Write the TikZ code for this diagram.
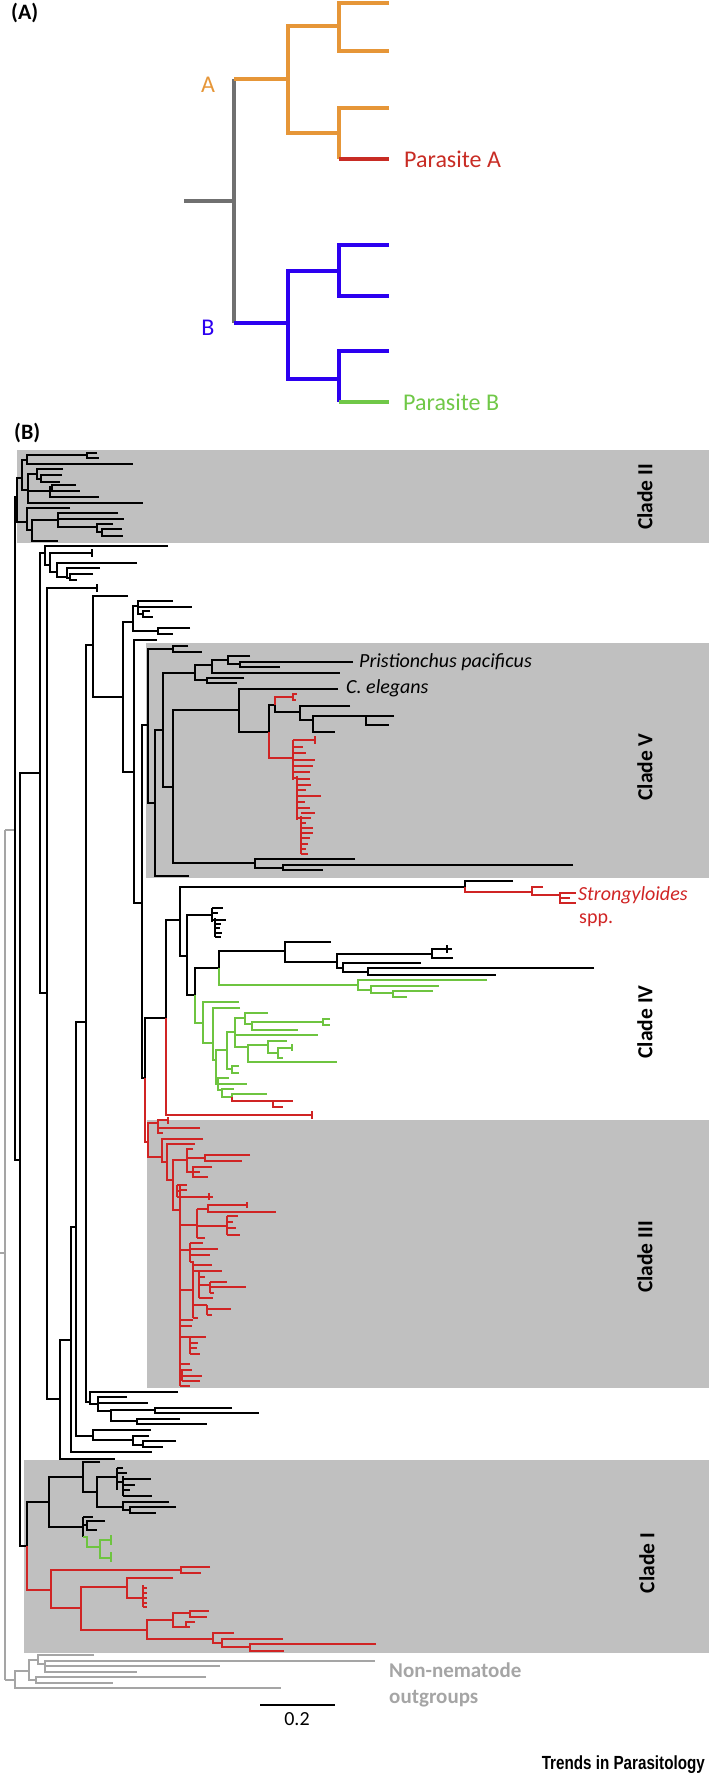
\documentclass[tikz,border=0pt]{standalone}
\usepackage{graphicx}
\usepackage{fontspec}
\setmainfont{Carlito}
\newfontfamily\logofont{Liberation Sans}
\usetikzlibrary{positioning}
\definecolor{boxgray}{RGB}{192,192,192}
\definecolor{tred}{RGB}{208,36,36}
\definecolor{tgrn}{RGB}{110,196,64}
\definecolor{tgray}{RGB}{165,165,165}
\definecolor{aorange}{RGB}{230,150,56}
\definecolor{ablue}{RGB}{44,0,240}
\definecolor{agray}{RGB}{112,112,112}
\definecolor{ared}{RGB}{200,44,36}
\definecolor{agreen}{RGB}{112,200,72}
% branch helpers: bracket (x, top y, top end, bottom y, bottom end), leaf, vertical
\newcommand{\tbr}[6][]{\draw[br,#1] (#4,#3) -- (#2,#3) -- (#2,#5) -- (#6,#5);}
\newcommand{\tlf}[4][]{\draw[br,#1] (#2,#3) -- (#4,#3);}
\newcommand{\tvl}[4][]{\draw[br,#1] (#2,#3) -- (#2,#4);}

\begin{document}
\begin{tikzpicture}[x=1pt, y=-1pt,
  br/.style={line width=2.6pt, line join=miter},
  pa/.style={line width=3.4pt, line join=miter},
  clab/.style={font=\fontsize{21.5}{24}\selectfont\bfseries, rotate=90},
  spl/.style={font=\fontsize{20}{24}\selectfont\itshape, anchor=west, inner sep=0pt},
  plab/.style={font=\fontsize{24}{28}\selectfont, anchor=west, inner sep=0pt},
  panel/.style={font=\fontsize{22}{26}\selectfont\bfseries, anchor=west, inner sep=0pt}
]
\useasboundingbox (0,0) rectangle (709,1774);

% ---- panel A
\node[panel] (pA) at (11,13) {(A)};
\draw[pa, agray] (184,201) -- (234,201);
\draw[pa, agray] (234,79) -- (234,323);
\draw[pa, aorange] (234,79) -- (288,79);
\draw[pa, aorange] (339,26) -- (288,26) -- (288,133) -- (339,133);
\draw[pa, aorange] (389,3) -- (339,3) -- (339,51) -- (389,51);
\draw[pa, aorange] (389,108) -- (339,108) -- (339,159);
\draw[pa, ared] (339,159) -- (389,159);
\draw[pa, ablue] (234,323) -- (288,323);
\draw[pa, ablue] (339,271) -- (288,271) -- (288,379) -- (339,379);
\draw[pa, ablue] (389,245) -- (339,245) -- (339,296) -- (389,296);
\draw[pa, ablue] (389,351) -- (339,351) -- (339,402);
\draw[pa, agreen] (339,402) -- (389,402);
\node[plab, text=aorange, anchor=center] (labA) at (208,85) {A};
\node[plab, text=ablue, anchor=center] (labB) at (208,328) {B};
\node[plab, text=ared] (parA) at (404,159) {Parasite A};
\node[plab, text=agreen] (parB) at (403,402) {Parasite B};

% ---- panel B: clade boxes
\node[panel] (pB) at (14,433) {(B)};
\fill[boxgray] (17,450) rectangle (709,543);
\fill[boxgray] (146,643) rectangle (709,878);
\fill[boxgray] (147,1120) rectangle (709,1388);
\fill[boxgray] (24,1460) rectangle (709,1653);

% root and outgroups
\draw[br, tgray] (0,1253) -- (5,1253);
\tvl[tgray]{5}{830}{1680}
\tlf[tgray]{5}{830}{15}
\tlf[tgray]{5}{1680}{15}
\tbr[tgray]{15}{1671}{29}{1688}{281}
\tbr[tgray]{29}{1660}{38}{1680}{36}
\tbr[tgray]{36}{1677}{206}{1683}{113}
\tbr[tgray]{38}{1655}{94}{1664}{45}
\tbr[tgray]{45}{1661}{375}{1672}{137}
\tlf[tgray]{45}{1666}{220}

% backbone
\tbr{15}{497}{17}{1160}{20}
\tbr{20}{773}{40}{1546}{27}
\tbr{40}{553}{45}{993}{47}
\tbr{47}{588}{97}{1399}{60}
\tvl{97}{584}{592}
\tbr{60}{1340}{71}{1459}{115}
\tbr{71}{1227}{76}{1452}{152}
\tbr{76}{1022}{86}{1436}{93}
\tbr{86}{645}{93}{1402}{90}
\tbr{93}{596}{128}{697}{123}
\tbr{123}{622}{133}{772}{134}
\tbr{134}{640}{157}{903}{142}
\tbr{142}{725}{148}{1078}{145}

% clade II
\tbr{17}{478}{22}{522}{27}
\tbr{22}{460}{27}{490}{28}
\tbr{27}{455}{87}{464}{133}
\tbr{87}{453}{97}{458}{99}
\tbr{28}{474}{37}{503}{143}
\tbr{37}{469}{63}{479}{41}
\tbr{41}{475}{62}{482}{60}
\tlf{28}{491}{50}
\tbr{50}{487}{52}{497}{99}
\tbr{52}{485}{76}{491}{80}
\tbr{27}{508}{70}{530}{32}
\tbr{32}{520}{58}{541}{58}
\tbr{58}{513}{118}{527}{97}
\tlf{58}{519}{124}
\tbr{97}{524}{113}{532}{102}
\tbr{102}{529}{122}{536}{123}

% small groups above clade V
\tbr{45}{546}{168}{565}{50}
\tbr{50}{553}{92}{572}{57}
\tvl{92}{549}{557}
\tbr{57}{563}{137}{577}{67}
\tbr{67}{568}{100}{578}{70}
\tbr{70}{574}{93}{580}{77}
\tbr{133}{606}{138}{631}{158}
\tbr{138}{601}{173}{614}{143}
\tlf{138}{607}{192}
\tbr{143}{611}{150}{617}{153}
\tbr{158}{628}{190}{634}{173}

% clade V
\tbr{148}{649}{173}{803}{155}
\tbr{173}{646}{188}{652}{202}
\tbr{155}{730}{163}{876}{189}
\tbr{163}{673}{195}{787}{173}
\tbr{195}{665}{212}{680}{207}
\tbr{212}{660}{228}{673}{340}
\tbr{228}{656}{250}{664}{240}
\tbr{240}{662}{353}{667}{280}
\tbr{207}{678}{244}{683}{237}
\tbr{173}{710}{239}{863}{255}
\tbr{239}{689}{338}{732}{269}
\draw[br] (275,705) -- (269,705) -- (269,732);
\draw[br, tred] (269,732) -- (269,758) -- (293,758);
\draw[br, tred] (275,705) -- (275,697) -- (293,697);
\tbr[tred]{293}{694}{297}{700}{296}
\draw[br] (275,705) -- (275,712) -- (300,712);
\tbr{300}{706}{350}{720}{313}
\tbr{313}{716}{366}{732}{335}
\tbr{366}{716}{394}{725}{389}
\tbr{255}{859}{355}{868}{283}
\tbr{283}{865}{573}{870}{323}
\tvl[tred]{293}{740}{780}
\tvl[tred]{297}{776}{820}
\tvl[tred]{301}{816}{854}
\tvl[tred]{315}{736}{744}
\foreach \a/\y/\b in {293/740/315, 293/747/303, 293/753/306, 293/760/315,
  293/766/313, 293/772/310, 293/778/297, 297/779/310, 297/785/311, 297/790/306,
  297/796/321, 297/802/305, 297/808/310, 297/818/301, 301/813/315, 301/818/311,
  301/823/306, 301/828/313, 301/833/313, 301/838/310, 301/844/308, 301/849/306,
  301/854/308}
  \draw[br, tred] (\a,\y) -- (\b,\y);
\node[spl] (pristi) at (359,662) {Pristionchus pacificus};
\node[spl] (celeg) at (346,688) {C. elegans};

% clade IV
\draw[br] (166,1018) -- (145,1018) -- (145,1078);
\draw[br, tred] (145,1078) -- (145,1142) -- (148,1142);
\draw[br] (180,920) -- (166,920) -- (166,1018);
\draw[br, tred] (166,1018) -- (166,1115) -- (312,1115);
\tvl[tred]{312}{1111}{1119}
\tbr{180}{887}{465}{956}{187}
\draw[br] (513,881) -- (465,881) -- (465,887);
\draw[br, tred] (465,887) -- (465,892) -- (532,892);
\tbr[tred]{532}{887}{543}{895}{560}
\tbr[tred]{560}{893}{576}{903}{576}
\tlf[tred]{560}{898}{570}
\node[spl, text=tred] (strongy) at (578,895) {Strongyloides};
\node[spl, font=\fontsize{20}{24}\selectfont, text=tred] (spp) at (579,920) {spp.};
\tbr{187}{915}{212}{995}{195}
\tvl{212}{908}{922}
\tvl{215}{918}{937}
\foreach \a/\y/\b in {212/908/223, 212/913/218, 212/920/226, 215/924/221,
  215/928/220, 215/933/222, 215/937/221}
  \draw[br] (\a,\y) -- (\b,\y);
\draw[br] (219,968) -- (195,968) -- (195,995);
\draw[br, tgrn] (195,995) -- (195,1023) -- (203,1023);
\draw[br] (285,951) -- (219,951) -- (219,968);
\draw[br, tgrn] (219,968) -- (219,985) -- (358,985);
\tbr{285}{942}{331}{962}{337}
\tbr{337}{954}{432}{968}{343}
\tbr{432}{949}{452}{958}{453}
\tvl{447}{945}{953}
\tbr{343}{963}{421}{972}{368}
\tbr{368}{968}{594}{975}{496}
\tbr[tgrn]{358}{980}{487}{990}{371}
\tbr[tgrn]{371}{986}{439}{993}{393}
\tbr[tgrn]{393}{991}{433}{997}{407}
\tbr[tgrn]{203}{1002}{239}{1043}{213}
\tbr[tgrn]{213}{1008}{240}{1060}{216}
\tbr[tgrn]{216}{1050}{227}{1084}{218}
\tbr[tgrn]{227}{1032}{235}{1069}{232}
\tbr[tgrn]{235}{1018}{245}{1047}{248}
\tlf[tgrn]{235}{1035}{318}
\tbr[tgrn]{245}{1013}{268}{1024}{252}
\tbr[tgrn]{252}{1022}{323}{1030}{298}
\tbr[tgrn]{323}{1019}{330}{1025}{330}
\tbr[tgrn]{248}{1045}{268}{1062}{337}
\tbr[tgrn]{268}{1041}{287}{1053}{278}
\tbr[tgrn]{278}{1048}{292}{1058}{283}
\tvl[tgrn]{292}{1044}{1051}
\tbr[tgrn]{232}{1066}{239}{1073}{239}
\tbr[tgrn]{218}{1078}{229}{1090}{222}
\tlf[tgrn]{218}{1084}{247}
\draw[br, tgrn] (234,1089) -- (222,1089) -- (222,1097) -- (232,1097);
\draw[br, tgrn] (267,1094) -- (232,1094) -- (232,1097);
\draw[br, tred] (232,1097) -- (232,1101) -- (293,1101);
\draw[br, tred] (273,1101) -- (273,1107) -- (283,1107);

% clade III
\tbr[tred]{148}{1123}{158}{1157}{162}
\tbr[tred]{158}{1120}{168}{1133}{163}
\tlf[tred]{158}{1128}{200}
\tvl[tred]{168}{1117}{1124}
\tbr[tred]{162}{1139}{203}{1162}{167}
\tbr[tred]{167}{1144}{195}{1180}{173}
\tbr[tred]{173}{1160}{187}{1210}{180}
\tbr[tred]{187}{1149}{193}{1172}{193}
\tlf[tred]{187}{1158}{205}
\tbr[tred]{205}{1155}{250}{1161}{242}
\tbr[tred]{193}{1167}{212}{1177}{208}
\tlf[tred]{193}{1172}{200}
\tvl[tred]{180}{1185}{1386}
\tvl[tred]{177}{1185}{1197}
\tvl[tred]{209}{1193}{1200}
\tvl[tred]{197}{1209}{1238}
\tbr[tred]{208}{1205}{247}{1212}{276}
\tvl[tred]{247}{1202}{1208}
\tvl[tred]{227}{1216}{1235}
\tvl[tred]{190}{1243}{1262}
\tvl[tred]{193}{1262}{1318}
\tvl[tred]{199}{1271}{1298}
\tvl[tred]{210}{1282}{1293}
\tvl[tred]{207}{1305}{1315}
\tvl[tred]{190}{1337}{1354}
\tvl[tred]{182}{1370}{1381}
\foreach \a/\y/\b in {177/1185/187, 177/1191/180, 180/1190/187, 177/1197/213,
  180/1225/197, 197/1209/208, 197/1226/227, 227/1216/238, 227/1222/233,
  227/1228/236, 227/1235/240, 197/1238/205, 180/1250/190, 190/1243/203,
  190/1249/218, 190/1255/210, 190/1262/194, 180/1290/193, 193/1265/212,
  193/1271/199, 199/1271/222, 199/1277/205, 199/1285/210, 210/1282/227,
  210/1287/246, 210/1293/214, 199/1298/213, 193/1305/207, 207/1309/231,
  207/1315/212, 193/1318/198, 180/1320/193, 180/1326/192, 180/1337/190,
  190/1337/206, 190/1343/198, 190/1348/197, 190/1354/200, 180/1364/190,
  180/1370/192, 182/1376/202, 182/1381/200, 180/1386/190}
  \draw[br, tred] (\a,\y) -- (\b,\y);

% between clade III and clade I
\tbr{90}{1392}{178}{1404}{98}
\tbr{98}{1397}{127}{1411}{111}
\tlf{98}{1403}{148}
\tbr{111}{1410}{155}{1421}{137}
\tbr{155}{1408}{232}{1413}{259}
\tbr{137}{1419}{180}{1424}{207}
\tbr{93}{1430}{151}{1440}{133}
\tbr{133}{1436}{149}{1445}{143}
\tbr{143}{1441}{176}{1447}{163}

% clade I
\draw[br] (20,1546) -- (27,1546) -- (27,1502) -- (49,1502);
\draw[br, tred] (27,1546) -- (27,1590) -- (51,1590);
\tbr{49}{1477}{83}{1527}{83}
\tbr{83}{1462}{100}{1492}{97}
\tbr{97}{1477}{117}{1507}{123}
\tvl{117}{1468}{1490}
\tvl{123}{1476}{1496}
\foreach \a/\y/\b in {117/1468/123, 117/1473/127, 117/1482/123, 123/1479/151,
  123/1485/135, 123/1490/130, 123/1496/152}
  \draw[br] (\a,\y) -- (\b,\y);
\tbr{123}{1502}{169}{1510}{130}
\tbr{130}{1507}{176}{1513}{156}
\tvl{83}{1517}{1537}
\tlf{83}{1517}{93}
\tlf{83}{1525}{87}
\tbr{87}{1521}{105}{1530}{97}
\draw[br, tgrn] (83,1537) -- (87,1537) -- (87,1547) -- (100,1547);
\tbr[tgrn]{100}{1540}{111}{1558}{111}
\tvl[tgrn]{111}{1535}{1545}
\tvl[tgrn]{111}{1552}{1562}
\tbr[tred]{51}{1570}{181}{1608}{81}
\tbr[tred]{181}{1567}{210}{1573}{201}
\tbr[tred]{81}{1587}{127}{1630}{147}
\tbr[tred]{127}{1578}{173}{1598}{143}
\tvl[tred]{143}{1585}{1607}
\foreach \y in {1588,1593,1598,1603,1607}
  \draw[br, tred] (143,\y) -- (147,\y);
\tbr[tred]{147}{1620}{173}{1639}{213}
\tbr[tred]{173}{1613}{190}{1627}{190}
\tbr[tred]{190}{1611}{209}{1617}{207}
\tbr[tred]{186}{1622}{195}{1627}{190}
\tbr[tred]{213}{1633}{234}{1643}{222}
\tbr[tred]{222}{1639}{283}{1647}{250}
\tbr[tred]{250}{1644}{376}{1651}{284}

% clade labels
\node[clab] (cII) at (645,497) {Clade II};
\node[clab] (cV) at (645,767) {Clade V};
\node[clab] (cIV) at (645,1022) {Clade IV};
\node[clab] (cIII) at (645,1257) {Clade III};
\node[clab] (cI) at (647,1563) {Clade I};

% outgroup label, scale bar, logo
\node[anchor=west, inner sep=0pt, align=left, text=tgray,
  font=\fontsize{21}{26}\selectfont\bfseries] (outg) at (389,1685)
  {Non-nematode\\outgroups};
\coordinate (sbl) at (260,1705);
\coordinate (sbr) at (335,1705);
\draw[line width=1.5pt] (sbl) -- (sbr);
\node[font=\fontsize{20}{24}\selectfont, inner sep=0pt] (sbt) at (297,1719) {0.2};
\node[anchor=east, inner sep=0pt] (trend) at (705,1765)
  {\scalebox{0.8}[1]{\logofont\bfseries\fontsize{19}{22}\selectfont Trends in Parasitology}};
\end{tikzpicture}
\end{document}
